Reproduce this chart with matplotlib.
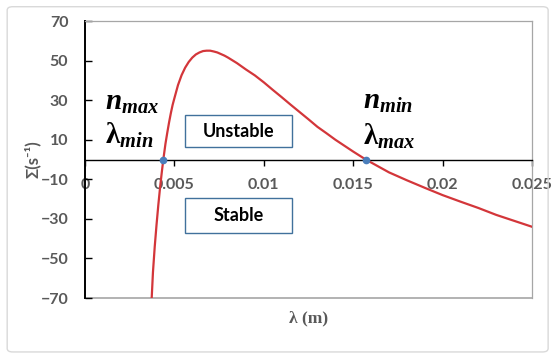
import matplotlib
matplotlib.use('Agg')
import matplotlib.pyplot as plt
from matplotlib.patches import Rectangle, FancyBboxPatch

# growth rate curve: wavelength (m) vs sigma (1/s)
lam = [0.00373, 0.0038, 0.0039, 0.0040, 0.0041, 0.0042, 0.0043, 0.00438, 0.0045,
       0.0046, 0.0047, 0.0048, 0.0049, 0.0050, 0.0052, 0.0054, 0.0056, 0.0058,
       0.0060, 0.0062, 0.0064, 0.0066, 0.0068, 0.0070, 0.0072, 0.0074, 0.0076,
       0.0078, 0.0080, 0.0085, 0.0090, 0.0095, 0.0100, 0.0105, 0.0110, 0.0115,
       0.0120, 0.0125, 0.0130, 0.0135, 0.0140, 0.0145, 0.0150, 0.0157, 0.0165,
       0.0170, 0.0180, 0.0190, 0.0200, 0.0210, 0.0220, 0.0230, 0.0240, 0.0250]
sigma = [-70, -57, -44, -33, -23, -14, -6, 0, 8,
         13.5, 18.7, 23.4, 27.6, 31, 37.6, 42.6, 46.4, 49.3,
         51.5, 53.1, 54.1, 54.8, 55, 55, 54.6, 54.1, 53.3,
         52.5, 51.5, 48.7, 45.5, 42.5, 39, 35.2, 31.5, 27.7,
         24, 20.3, 16.5, 13.3, 10, 7, 4, 0, -4,
         -6.5, -10.5, -14.3, -18, -21.3, -24.5, -28, -31, -34]

# neutral stability points (sigma = 0)
lam_zero = [0.00438, 0.0157]
sigma_zero = [0, 0]

x_ticks = [0, 0.005, 0.01, 0.015, 0.02, 0.025]
x_tick_labels = ['0', '0.005', '0.01', '0.015', '0.02', '0.025']
y_ticks = [70, 50, 30, 10, -10, -30, -50, -70]

plt.rcParams['mathtext.fontset'] = 'custom'
plt.rcParams['mathtext.rm'] = 'Liberation Serif:bold'
plt.rcParams['mathtext.it'] = 'Liberation Serif:italic:bold'
plt.rcParams['mathtext.bf'] = 'Liberation Serif:bold'

gray = '#595959'
sans = ['Lato', 'DejaVu Sans']

fig = plt.figure(figsize=(5.52, 3.53), dpi=100)
fig.patches.append(FancyBboxPatch((0.013, 0.003), 0.98, 0.978, boxstyle='round,pad=0,rounding_size=0.01',
                                  transform=fig.transFigure, fill=False, edgecolor='#D9D9D9', lw=1.0))
ax = fig.add_axes([0.154, 0.1558, 0.8098, 0.7847])

ax.plot(lam, sigma, color='#D3363A', lw=1.6, zorder=3)
ax.plot(lam_zero, sigma_zero, 'o', color='#4A7EBB', ms=4.5, zorder=4)

ax.set_xlim(0, 0.025)
ax.set_ylim(-70, 70)

ax.spines['bottom'].set_position(('data', 0))
ax.spines['bottom'].set_color('black')
ax.spines['bottom'].set_linewidth(1.0)
ax.spines['left'].set_color('black')
ax.spines['left'].set_linewidth(1.4)
for s in ['top', 'right']:
    ax.spines[s].set_color('#A6A6A6')
    ax.spines[s].set_linewidth(0.9)
ax.axhline(-70, color='#A6A6A6', lw=1.2, clip_on=False, zorder=1)

ax.set_xticks(x_ticks)
ax.set_xticklabels(x_tick_labels)
ax.set_yticks(y_ticks)
ax.tick_params(axis='x', direction='out', length=4, width=1, pad=9, colors='black', labelcolor=gray)
ax.tick_params(axis='y', direction='in', length=5, width=1, pad=12, colors='black', labelcolor=gray)
for lab in ax.get_xticklabels() + ax.get_yticklabels():
    lab.set_fontfamily(sans)
    lab.set_fontweight('bold')
    lab.set_fontsize(11.5)

ax.set_ylabel('Σ(s⁻¹)', family=sans, fontweight='bold', fontsize=12, color=gray)
ax.yaxis.set_label_coords(-0.1, 0.5)
ax.set_xlabel('λ (m)', family='Liberation Serif', fontweight='bold', fontsize=12.5, color=gray)
ax.xaxis.set_label_coords(0.5, -0.045)

# annotations
ax.text(0.045, 0.679, r'$n_{max}$', transform=ax.transAxes, fontsize=21, va='baseline')
ax.text(0.045, 0.558, r'$\mathrm{λ}_{min}$', transform=ax.transAxes, fontsize=21, va='baseline')
ax.text(0.622, 0.682, r'$n_{min}$', transform=ax.transAxes, fontsize=21, va='baseline')
ax.text(0.622, 0.552, r'$\mathrm{λ}_{max}$', transform=ax.transAxes, fontsize=21, va='baseline')

for y0, h, txt in [(0.545, 0.1155, 'Unstable'), (0.2347, 0.126, 'Stable')]:
    ax.add_patch(Rectangle((0.2237, y0), 0.2394, h, transform=ax.transAxes, facecolor='white',
                           edgecolor='#41719C', lw=1.0, zorder=5))
    ax.text(0.2237 + 0.2394 / 2, y0 + h / 2, txt, transform=ax.transAxes, ha='center', va='center',
            family=sans, fontweight='bold', fontsize=13, color='black', zorder=6)

fig.savefig('out.png', dpi=100)
